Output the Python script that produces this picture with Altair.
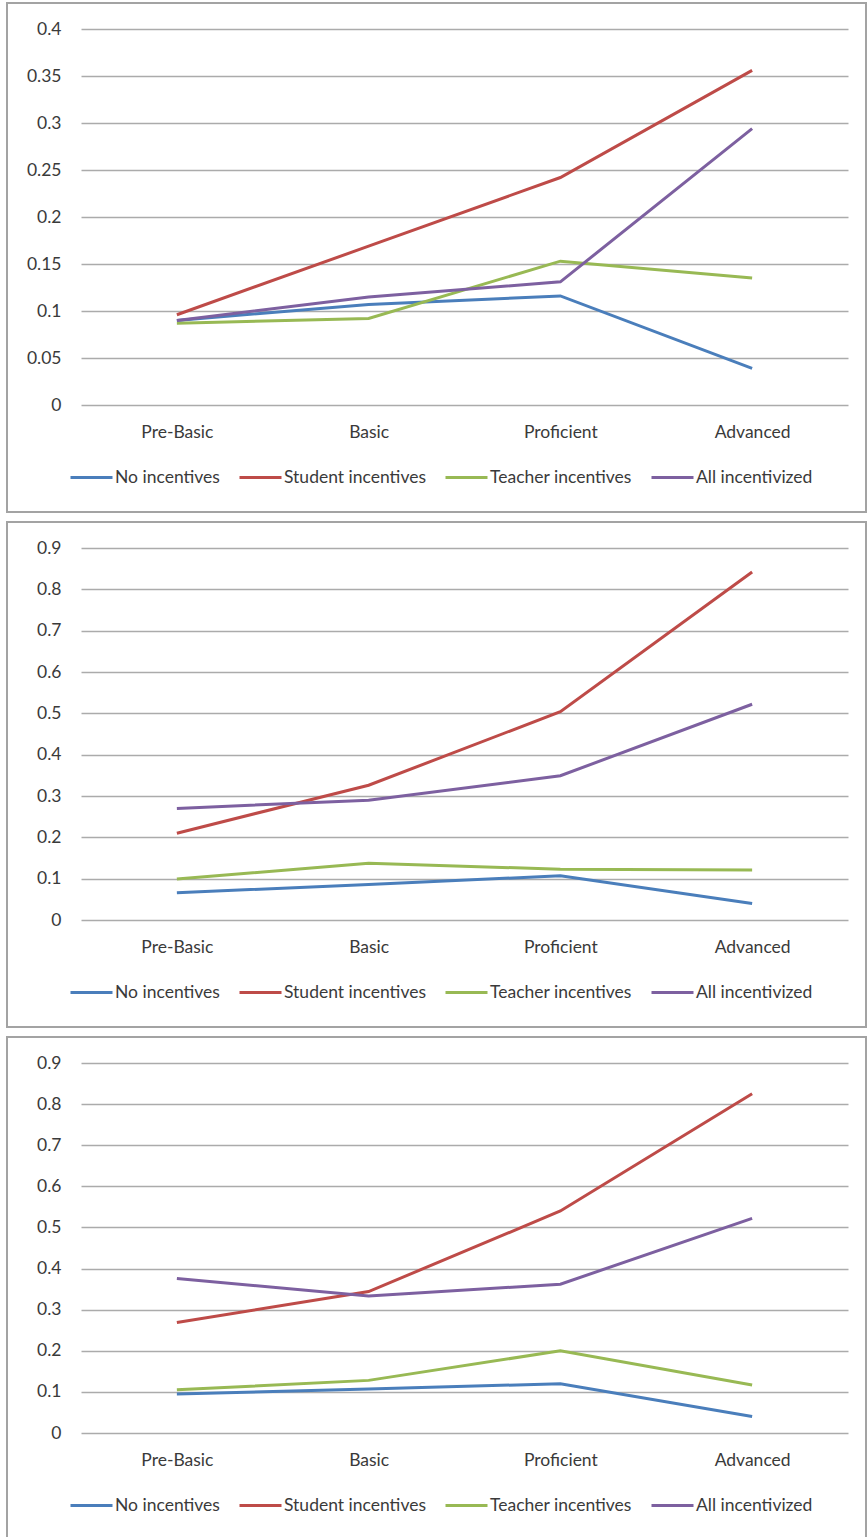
import altair as alt
import pandas as pd

levels = ["Pre-Basic", "Basic", "Proficient", "Advanced"]
groups = ["No incentives", "Student incentives", "Teacher incentives", "All incentivized"]
palette = ["#4a7ebb", "#be4b48", "#98b954", "#7d60a0"]

# Top panel
p1_none = [0.090, 0.107, 0.116, 0.039]
p1_student = [0.096, 0.169, 0.242, 0.356]
p1_teacher = [0.087, 0.092, 0.153, 0.135]
p1_all = [0.090, 0.115, 0.131, 0.294]
p1_ticks = [0, 0.05, 0.1, 0.15, 0.2, 0.25, 0.3, 0.35, 0.4]

# Middle panel
p2_none = [0.066, 0.086, 0.107, 0.040]
p2_student = [0.210, 0.326, 0.504, 0.842]
p2_teacher = [0.099, 0.137, 0.123, 0.121]
p2_all = [0.270, 0.290, 0.349, 0.522]

# Bottom panel
p3_none = [0.095, 0.107, 0.120, 0.040]
p3_student = [0.269, 0.344, 0.540, 0.825]
p3_teacher = [0.105, 0.128, 0.200, 0.117]
p3_all = [0.376, 0.333, 0.362, 0.522]

tenths_ticks = [0, 0.1, 0.2, 0.3, 0.4, 0.5, 0.6, 0.7, 0.8, 0.9]

FONT = "Lato"
FONT_SIZE = 17.5
TEXT = "#3a3a3a"
PLOT_W = 767


def panel(series, ticks, height):
    rows = []
    for name, vals in zip(groups, series):
        for lvl, v in zip(levels, vals):
            rows.append({"level": lvl, "group": name, "value": v})
    df = pd.DataFrame(rows)

    # outer border around the whole panel, including its legend
    frame = alt.Chart(pd.DataFrame({"k": [0]})).mark_rect(
        fillOpacity=0, stroke="#a3a3a3", strokeWidth=2
    ).encode(
        x=alt.value(-74), x2=alt.value(785),
        y=alt.value(-26), y2=alt.value(height + 107),
    )

    lines = alt.Chart(df).mark_line(strokeWidth=3).encode(
        x=alt.X(
            "level:N", sort=levels, title=None,
            scale=alt.Scale(type="point", padding=0.5),
            axis=alt.Axis(labelAngle=0, grid=False, labelPadding=18),
        ),
        y=alt.Y(
            "value:Q", title=None,
            scale=alt.Scale(domain=[ticks[0], ticks[-1]], nice=False),
            axis=alt.Axis(values=ticks, format="~g", labelPadding=20),
        ),
        color=alt.Color(
            "group:N", title=None,
            scale=alt.Scale(domain=groups, range=palette),
            legend=alt.Legend(
                orient="none", legendX=-12, legendY=height + 50,
                direction="horizontal", columns=4,
                symbolType="stroke", symbolSize=1764, symbolStrokeWidth=3,
                labelOffset=1, columnPadding=13,
            ),
        ),
        order=alt.Order("level_order:Q"),
    ).transform_calculate(
        level_order="indexof(" + str(levels) + ", datum.level)"
    )

    return alt.layer(frame, lines).properties(width=PLOT_W, height=height)


chart = alt.vconcat(
    panel([p1_none, p1_student, p1_teacher, p1_all], p1_ticks, 376),
    panel([p2_none, p2_student, p2_teacher, p2_all], tenths_ticks, 372),
    panel([p3_none, p3_student, p3_teacher, p3_all], tenths_ticks, 370),
    spacing=8,
).resolve_scale(
    color="independent"
).resolve_legend(
    color="independent"
).properties(
    padding={"left": 6, "top": 2, "right": 0, "bottom": 0},
    background="white",
).configure_view(
    strokeWidth=0
).configure_axis(
    domain=False, ticks=False,
    gridColor="#ababab", gridWidth=1.5,
    labelFont=FONT, labelFontSize=FONT_SIZE, labelColor=TEXT,
).configure_legend(
    labelFont=FONT, labelFontSize=FONT_SIZE, labelColor=TEXT,
    labelLimit=220,
)

chart.save("out.html", embed_options={"renderer": "svg", "actions": False})
